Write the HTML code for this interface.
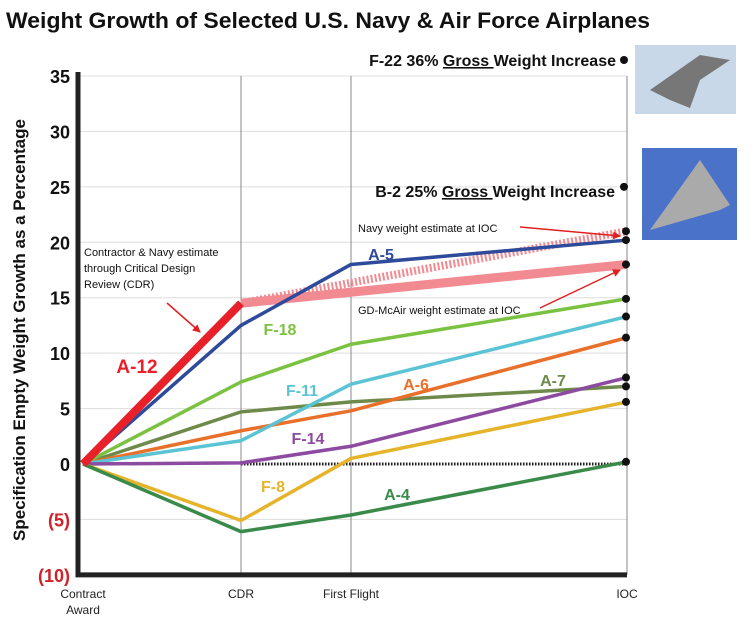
<!DOCTYPE html>
<html><head><meta charset="utf-8"><style>
body{margin:0;background:#fff;width:752px;height:625px;overflow:hidden;font-family:"Liberation Sans",sans-serif}
</style></head><body>
<svg width="752" height="625" viewBox="0 0 752 625">
<defs>
<marker id="arr" markerWidth="8" markerHeight="8" refX="7" refY="4" orient="auto" markerUnits="userSpaceOnUse"><path d="M0,0 L8,4 L0,8 Z" fill="#e02020"/></marker>
</defs>
<text x="6" y="28" font-size="22" font-weight="bold" fill="#111" textLength="644" lengthAdjust="spacingAndGlyphs">Weight Growth of Selected U.S. Navy &amp; Air Force Airplanes</text>
<g id="grid"></g>
<g id="marks"></g>
<g id="labels"></g>
<text transform="translate(25,330) rotate(-90)" text-anchor="middle" font-size="17" font-weight="bold" fill="#111">Specification Empty Weight Growth as a Percentage</text>
<rect x="635" y="45" width="101" height="69" fill="#c8d8e8"/>
<path d="M650,90 L700,55 L730,60 L700,80 L690,108 L670,100 Z" fill="#777"/>
<rect x="642" y="148" width="95" height="92" fill="#4a72c8"/>
<path d="M650,230 L700,160 L730,205 L720,210 Z" fill="#aaa"/>
</svg>
<script>
const stages=["Contract Award","CDR","First Flight","IOC"];
const yTicks=[35,30,25,20,15,10,5,0,-5,-10];
const seriesNames=["A-5","F-18","F-11","A-6","A-7","F-14","F-8","A-4"];
const a5=[0,12.5,18,20.2];
const f18=[0,7.4,10.8,14.9];
const f11=[0,2.1,7.2,13.3];
const a6=[0,3.0,4.8,11.4];
const a7=[0,4.7,5.6,7.0];
const f14=[0,0.1,1.6,7.8];
const f8=[0,-5.1,0.5,5.6];
const a4=[0,-6.1,-4.6,0.2];
const a12=[0,14.5];
const navyEst=[14.5,21];
const gdEst=[14.5,18];
const f22Gross=36, b2Gross=25;
const colors=["#2e4a9a","#7cc242","#5bc4d4","#e8702a","#6e8a4a","#8c4aa0","#e6b42a","#3a8a4a"];
const stageX=[83,241,351,627];
function X(i){return stageX[i];}
function Y(v){return 464-(v*388/35);}
const ns="http://www.w3.org/2000/svg";
function mk(p,tag,at){const e=document.createElementNS(ns,tag);for(const k in at)e.setAttribute(k,at[k]);p.appendChild(e);return e;}
const grid=document.getElementById('grid'),marks=document.getElementById('marks'),labels=document.getElementById('labels');
yTicks.forEach(t=>{
 if(t>-10){const l=mk(grid,'line',{x1:80,x2:627,y1:Y(t),y2:Y(t),stroke:'#ddd','stroke-width':1});
 
 }
 const tx=mk(labels,'text',{x:70,y:Y(t)+7,'text-anchor':'end','font-size':18,'font-weight':'bold',fill:t<0?'#d0202a':'#111'});
 tx.textContent=t<0?'('+(-t)+')':String(t);
 
 
});
[1,2,3].forEach(i=>{const l=mk(grid,'line',{x1:X(i),x2:X(i),y1:Y(35),y2:Y(-10),stroke:'#888','stroke-width':1});
 
 });
stages.forEach((s,i)=>{
 const tx=mk(labels,'text',{x:X(i),y:598,'text-anchor':'middle','font-size':12,fill:'#222'});
 tx.textContent=i==0?'Contract':s;
 
 
 if(i==0){const t2=mk(labels,'text',{x:X(0),y:614,'text-anchor':'middle','font-size':12,fill:'#222'});t2.textContent='Award';
 
 }
});
let z=mk(marks,'line',{x1:X(1),x2:X(3),y1:Y(0),y2:Y(0),stroke:'#222','stroke-width':3,'stroke-dasharray':'1.5,1.5'});


let g=mk(marks,'line',{x1:X(1),y1:Y(gdEst[0]),x2:X(3),y2:Y(gdEst[1]),stroke:'#f28a92','stroke-width':9});


let n=mk(marks,'line',{x1:X(1),y1:Y(navyEst[0]),x2:X(3),y2:Y(navyEst[1]),stroke:'#f28a92','stroke-width':8,'stroke-dasharray':'2,2'});


const all=[a5,f18,f11,a6,a7,f14,f8,a4];
const order=[4,3,2,1,0,5,6,7];
order.forEach(k=>{
 const pts=all[k].map((v,i)=>X(i)+','+Y(v)).join(' ');
 const p=mk(marks,'polyline',{points:pts,fill:'none',stroke:colors[k],'stroke-width':3.5,'stroke-linejoin':'round'});
 
 
});
let a=mk(marks,'line',{x1:X(0),y1:Y(a12[0]),x2:X(1),y2:Y(a12[1]),stroke:'#e8202a','stroke-width':8});


let ax=mk(marks,'path',{d:`M${X(0)-5},${Y(35)-4} V${Y(-10)} H${X(3)}`,fill:'none',stroke:'#222','stroke-width':5});


[f22Gross,b2Gross,navyEst[1],a5[3],gdEst[1],f18[3],f11[3],a6[3],f14[3],a7[3],f8[3],a4[3]].forEach((v,i)=>{
 const yy=i==0?60:Y(v);
 const c=mk(marks,'circle',{cx:i<2?624:X(3)-1,cy:yy,r:4,fill:'#111'});
 
 
});
const lab=[["A-12",137,373,"#e8202a",19],["A-5",381,260,colors[0],16],["F-18",280,335,colors[1],16],["F-11",302,396,colors[2],16],["A-6",416,390,colors[3],16],["A-7",553,386,colors[4],16],["F-14",308,444,colors[5],16],["F-8",273,492,colors[6],16],["A-4",397,500,colors[7],16]];
lab.forEach(l=>{const t=mk(labels,'text',{x:l[1],y:l[2],'text-anchor':'middle','font-size':l[4],'font-weight':'bold',fill:l[3]});t.textContent=l[0];
 
 });
function txt(s,x,y,sz,w,name,anchor){const t=mk(labels,'text',{x:x,y:y,'font-size':sz,'font-weight':w,fill:'#111','text-anchor':anchor||'start'});t.innerHTML=s;
 
 return t;}
txt('F-22 36% <tspan text-decoration="underline">Gross </tspan>Weight Increase',616,66,16,'bold','f22-annotation','end');
txt('B-2 25% <tspan text-decoration="underline">Gross </tspan>Weight Increase',615,197,16,'bold','b2-annotation','end');
txt('Navy weight estimate at IOC',358,232,11,'normal','navy-estimate-note');
txt('GD-McAir weight estimate at IOC',358,314,11,'normal','gd-estimate-note');
txt('Contractor &amp; Navy estimate',84,256,11,'normal','contractor-note-1');
txt('through Critical Design',84,272,11,'normal','contractor-note-2');
txt('Review (CDR)',84,288,11,'normal','contractor-note-3');
[[520,227,620,236,'arrow-navy'],[540,308,620,270,'arrow-gd'],[167,303,200,332,'arrow-contractor']].forEach(r=>{
 const l=mk(labels,'line',{x1:r[0],y1:r[1],x2:r[2],y2:r[3],stroke:'#e02020','stroke-width':1.5,'marker-end':'url(#arr)'});
 
 
});
</script>
</body></html>
